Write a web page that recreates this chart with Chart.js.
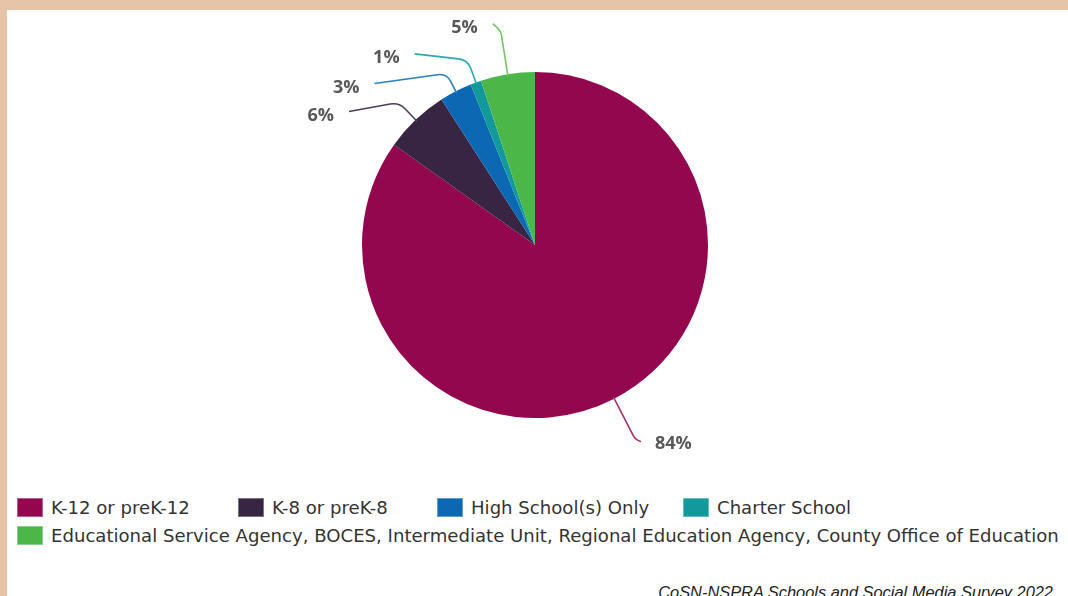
<!DOCTYPE html>
<html>
<head>
<meta charset="utf-8">
<script src="https://cdn.jsdelivr.net/npm/chart.js@4"></script>
<style>
  html, body { margin: 0; padding: 0; }
  body { width: 1068px; height: 596px; background: #e5c4a8; position: relative; overflow: hidden; }
  #panel { position: absolute; left: 7px; top: 10px; width: 1061px; height: 586px; background: #fff; }
  #wrap { position: absolute; left: 0; top: 0; width: 1068px; height: 470px; }
  #legend { position: absolute; left: 17px; top: 498px; width: 1051px; display: flex; flex-wrap: wrap; row-gap: 9px;
            font-family: "DejaVu Sans", sans-serif; font-size: 18.1px; color: #333; }
  .item { display: flex; align-items: center; height: 19px; margin-right: 33px; white-space: nowrap; box-sizing: border-box; }
  .box { width: 26px; height: 19px; margin-right: 8px; box-sizing: border-box; flex: none; }
  #source { position: absolute; right: 15px; top: 584px; font-family: "Liberation Sans", Arial, sans-serif;
            font-style: italic; font-size: 16.4px; line-height: 16px; color: #222; white-space: nowrap; }
</style>
</head>
<body>
<div id="panel"></div>
<div id="wrap"><canvas id="myChart"></canvas></div>
<div id="legend"></div>
<div id="source">CoSN-NSPRA Schools and Social Media Survey 2022</div>
<script>
// categories and values (percent of respondents)
var labels = ['K-12 or preK-12', 'K-8 or preK-8', 'High School(s) Only', 'Charter School',
  'Educational Service Agency, BOCES, Intermediate Unit, Regional Education Agency, County Office of Education'];
var values = [84, 6, 3, 1, 5];
var valueLabels = ['84%', '6%', '3%', '1%', '5%'];

var colors = ['#93074f', '#382543', '#0c68b2', '#12999c', '#4cb748'];
var lineColors = ['#a8306d', '#4d3c5c', '#2a7fc2', '#2aa9ae', '#70c862'];

// legend slot widths on the first row (box to next box)
var legendSlots = [221, 199, 246, null, null];

// callout shape per slice: radial length, then horizontal run (dx, dy)
var callouts = [
  {len: 45, dx: 6, dy: 3},
  {len: 24, dx: -50, dy: 9},
  {len: 20, dx: -72, dy: 10},
  {len: 24, dx: -53, dy: -6},
  {len: 44, dx: -8, dy: -7}
];

var calloutPlugin = {
  id: 'callouts',
  afterDatasetsDraw: function(chart) {
    var ctx = chart.ctx;
    var arcs = chart.getDatasetMeta(0).data;
    ctx.save();
    arcs.forEach(function(arc, i) {
      var c = callouts[i];
      var mid = (arc.startAngle + arc.endAngle) / 2;
      var cos = Math.cos(mid), sin = Math.sin(mid);
      var r = arc.outerRadius - 2;
      var x0 = arc.x + r * cos, y0 = arc.y + r * sin;
      var ex = arc.x + (arc.outerRadius + c.len) * cos, ey = arc.y + (arc.outerRadius + c.len) * sin;
      var x2 = ex + c.dx, y2 = ey + c.dy;
      var k = Math.min(9, Math.abs(c.dx) * 0.6);
      var hl = Math.sqrt(c.dx * c.dx + c.dy * c.dy);
      ctx.beginPath();
      ctx.moveTo(x0, y0);
      ctx.lineTo(ex - cos * k, ey - sin * k);
      ctx.quadraticCurveTo(ex, ey, ex + c.dx / hl * k, ey + c.dy / hl * k);
      ctx.lineTo(x2, y2);
      ctx.strokeStyle = lineColors[i];
      ctx.lineWidth = 1.6;
      ctx.stroke();

      ctx.font = 'bold 18px "Open Sans", sans-serif';
      ctx.fillStyle = '#585858';
      ctx.textBaseline = 'middle';
      if (c.dx > 0) {
        ctx.textAlign = 'left';
        ctx.fillText(valueLabels[i], x2 + 14, y2 + 2);
      } else {
        ctx.textAlign = 'right';
        ctx.fillText(valueLabels[i], x2 - 15, y2 + 4);
      }
    });
    ctx.restore();
  }
};

var element = document.getElementById('myChart').getContext('2d');

var chartData = {
  labels: labels,
  datasets: [{
    data: values,
    backgroundColor: colors,
    borderWidth: 0,
    hoverOffset: 0
  }]
};

var chartOptions = {
  responsive: true,
  maintainAspectRatio: false,
  animation: false,
  layout: {
    padding: { left: 362, right: 360, top: 72, bottom: 52 }
  },
  plugins: {
    legend: { display: false },
    tooltip: { enabled: false }
  }
};

var chart = new Chart(element, {type: 'pie', data: chartData, options: chartOptions, plugins: [calloutPlugin]});

// html legend built from the same arrays
var legend = document.getElementById('legend');
labels.forEach(function(l, i) {
  var item = document.createElement('div');
  item.className = 'item';
  if (legendSlots[i]) {
    item.style.width = legendSlots[i] + 'px';
    item.style.marginRight = '0';
  }
  var box = document.createElement('span');
  box.className = 'box';
  box.style.background = colors[i];
  box.style.border = '1px solid rgba(255,255,255,0.35)';
  var txt = document.createElement('span');
  txt.textContent = l;
  item.appendChild(box);
  item.appendChild(txt);
  legend.appendChild(item);
});
</script>
</body>
</html>
